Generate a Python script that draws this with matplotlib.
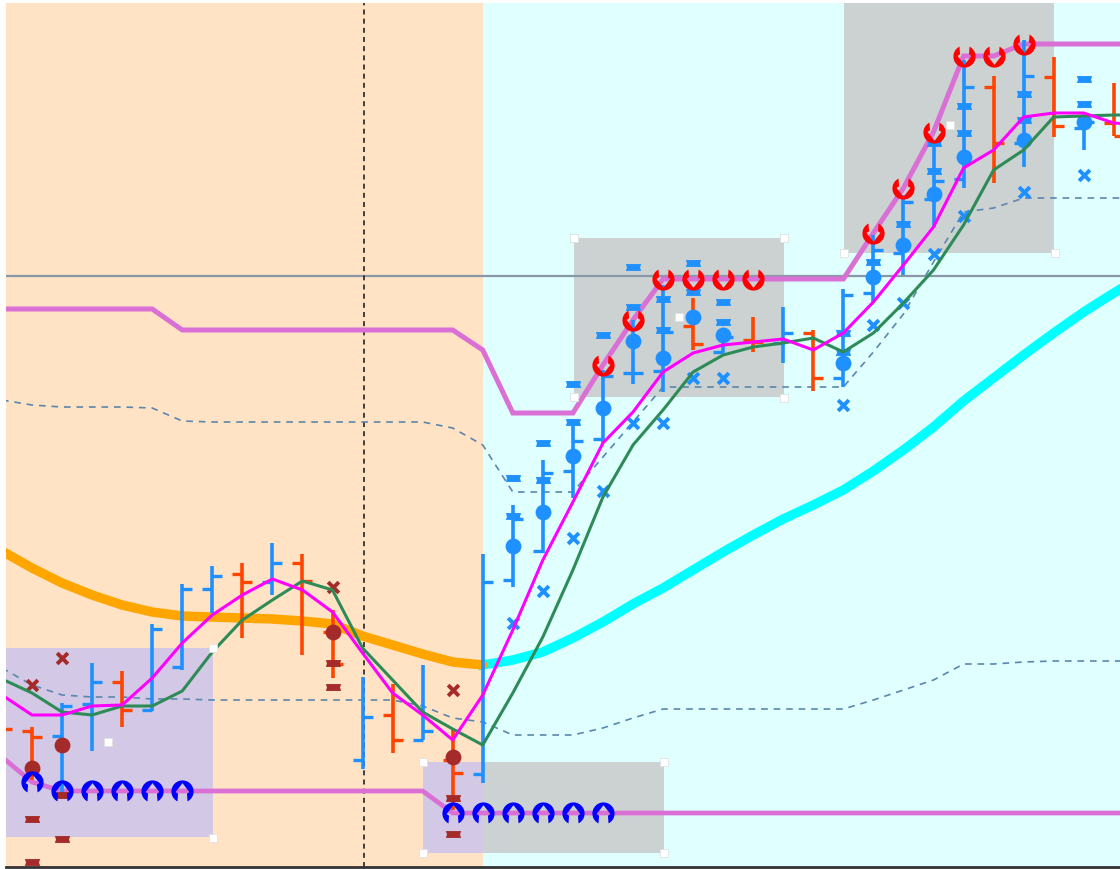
import math

import matplotlib
matplotlib.use('Agg')
import matplotlib.pyplot as plt
from matplotlib.path import Path
from matplotlib.patches import Rectangle

# index of each bar, first one (-1) is clipped at the left edge
idx = list(range(-1, 37))
# the lines run one bar further, past the right edge
line_idx = list(range(-1, 38))

# open / high / low / close, y axis runs downwards
opens = [725, 731, 736, 704, 682, 710, 667, 589, 574, 582, 563, 632, 760, 715, 740, 760, 774, 580, 551, 471, 439, 373, 371, 326, 352, 340, 343, 333, 378, 293, 253, 199, 179, 87, 143, 77, 128, 123]
highs = [715, 727, 703, 663, 671, 624, 584, 566, 563, 543, 554, 610, 677, 684, 665, 730, 554, 505, 460, 422, 370, 320, 285, 298, 335, 317, 307, 330, 289, 235, 195, 140, 60, 76, 40, 57, 115, 83]
lows = [745, 780, 797, 751, 727, 711, 670, 613, 638, 595, 655, 678, 769, 753, 740, 810, 783, 587, 553, 498, 443, 384, 392, 350, 353, 352, 363, 391, 387, 303, 275, 227, 188, 183, 167, 137, 150, 136]
closes = [729, 737, 706, 682, 710, 629, 589, 576, 582, 563, 581, 664, 717, 740, 731, 773, 582, 519, 473, 441, 376, 373, 332, 344, 337, 342, 333, 378, 295, 250, 202, 181, 87, 143, 76, 126, 122, 136]
bar_up = [False, False, True, True, False, True, True, True, False, True, False, False, True, False, True, False, True, True, True, True, True, True, True, False, True, False, True, False, True, True, True, True, True, False, True, False, True, False]

# thin moving averages, one value per bar
magenta_ma = [695, 715, 715, 706, 705, 678, 643, 615, 595, 579, 590, 612, 653, 693, 715, 740, 695, 630, 560, 502, 443, 412, 372, 353, 345, 342, 339, 350, 333, 302, 265, 227, 168, 150, 117, 113, 113, 123, 125]
green_ma = [679, 693, 712, 715, 706, 706, 691, 652, 620, 600, 581, 590, 648, 680, 712, 729, 745, 693, 637, 570, 497, 445, 410, 372, 355, 347, 343, 338, 352, 333, 303, 270, 225, 170, 150, 117, 116, 115, 115]

# thick moving average, orange up to bar 15 then cyan
thick_ma = [551, 568, 583, 595, 605, 612, 616, 617, 618, 619, 621, 624, 636, 645, 654, 662, 665, 660, 652, 638, 622, 604, 588, 570, 552, 535, 519, 505, 490, 471, 450, 427, 401, 378, 355, 333, 312, 293, 275]

# stop lines and their dashed companions
upper_stop = [309, 309, 309, 309, 309, 309, 330, 330, 330, 330, 330, 330, 330, 330, 330, 330, 350, 413, 413, 413, 365, 320, 279, 279, 279, 279, 279, 279, 279, 233, 188, 132, 56, 56, 44, 44, 44, 44, 44]
lower_stop = [757, 782, 791, 791, 791, 791, 791, 791, 791, 791, 791, 791, 791, 791, 791, 813, 813, 813, 813, 813, 813, 813, 813, 813, 813, 813, 813, 813, 813, 813, 813, 813, 813, 813, 813, 813, 813, 813, 813]
upper_dash = [400, 405, 407, 407, 407, 408, 421, 422, 422, 422, 422, 422, 422, 422, 422, 428, 445, 492, 492, 492, 457, 422, 387, 387, 387, 387, 387, 387, 387, 352, 314, 262, 212, 208, 198, 198, 198, 198, 198]
lower_dash = [668, 685, 695, 697, 697, 699, 699, 700, 700, 700, 700, 700, 700, 700, 706, 718, 722, 735, 735, 735, 728, 718, 709, 709, 709, 709, 709, 709, 709, 700, 690, 680, 664, 664, 662, 661, 661, 661, 661]

# markers: bar index and level
circle_blue_x = [16, 17, 18, 19, 20, 21, 22, 23, 27, 28, 29, 30, 31, 33, 35]
circle_blue_y = [546, 512, 456, 408, 341, 358, 317, 335, 363, 277, 245, 194, 157, 140, 122]
dash_blue_x = [16, 16, 17, 17, 18, 18, 19, 20, 20, 21, 21, 22, 22, 23, 23, 27, 27, 28, 29, 30, 30, 31, 31, 33, 33, 35, 35]
dash_blue_y = [478, 516, 443, 480, 384, 422, 335, 267, 307, 299, 330, 263, 292, 302, 322, 333, 352, 262, 224, 143, 171, 106, 133, 94, 120, 79, 104]
cross_blue_x = [16, 17, 18, 19, 20, 21, 22, 23, 27, 28, 29, 30, 31, 33, 35]
cross_blue_y = [623, 591, 538, 491, 423, 423, 378, 378, 405, 325, 303, 254, 216, 192, 175]
circle_brown_x = [0, 1, 10, 14]
circle_brown_y = [768, 745, 632, 757]
dash_brown_x = [0, 0, 1, 1, 10, 10, 14, 14]
dash_brown_y = [819, 862, 795, 839, 663, 687, 798, 834]
cross_brown_x = [0, 1, 10, 14]
cross_brown_y = [685, 658, 587, 690]
red_fractal_x = [19, 20, 21, 22, 23, 24, 28, 29, 30, 31, 32, 33]
red_fractal_y = [365, 320, 279, 279, 279, 279, 233, 188, 132, 56, 56, 44]
blue_fractal_x = [0, 1, 2, 3, 4, 5, 14, 15, 16, 17, 18, 19]
blue_fractal_y = [782, 791, 791, 791, 791, 791, 813, 813, 813, 813, 813, 813]

BAR_W = 30.05


def px(i):
    return 32 + BAR_W * i


def horseshoe(flip):
    # round glyph with an arrow shaped hole that opens at the bottom
    verts = []
    for a in range(-63, 244, 12):
        verts.append((math.cos(math.radians(a)), math.sin(math.radians(a))))
    verts.append((-0.45, -0.89))
    verts += [(-0.4, -0.2), (-0.62, -0.05), (0, 0.75), (0.62, -0.05), (0.4, -0.2), verts[0]]
    codes = [Path.MOVETO] + [Path.LINETO] * (len(verts) - 2) + [Path.CLOSEPOLY]
    if flip:
        verts = [(x, -y) for x, y in verts]
    return Path(verts, codes)


# flat bar with notched ends
dash_mark = Path([(-1, -0.45), (1, -0.45), (0.85, 0), (1, 0.45), (-1, 0.45), (-0.85, 0), (-1, -0.45)],
                 [Path.MOVETO] + [Path.LINETO] * 5 + [Path.CLOSEPOLY])

xs = [px(i) for i in line_idx]

fig = plt.figure(figsize=(11.2, 8.69), dpi=100)
ax = fig.add_axes([6 / 1120, 2 / 869, 1114 / 1120, 864 / 869])
ax.set_xlim(6, 1120)
ax.set_ylim(867, 3)
ax.set_xticks([])
ax.set_yticks([])
for side in ['top', 'left', 'right']:
    ax.spines[side].set_visible(False)
ax.spines['bottom'].set_linewidth(2)
ax.spines['bottom'].set_color('#333333')

# session backgrounds
ax.axvspan(6, px(15), color='#ffe3c4', lw=0, zorder=0)
ax.axvspan(px(15), 1120, color='#e0ffff', lw=0, zorder=0)

# rectangles drawn on the chart
ax.add_patch(Rectangle((6, 648), 207, 189, fc='#d3c9e6', ec='none', zorder=1))
ax.add_patch(Rectangle((423, 762), 60, 91, fc='#d3c9e6', ec='none', zorder=1))
ax.add_patch(Rectangle((483, 762), 181, 91, fc='#ccd2d1', ec='none', zorder=1))
ax.add_patch(Rectangle((574, 238), 210, 159, fc='#ccd2d1', ec='none', zorder=1))
ax.add_patch(Rectangle((844, 3), 210, 250, fc='#ccd2d1', ec='none', zorder=1))

# crosshair
ax.axhline(276, color='#8a97a6', lw=1.6, zorder=2)
ax.axvline(364, color='#222222', lw=1.2, ls=(0, (3, 2.5)), zorder=2)

# stop lines
ax.plot(xs, upper_stop, color='#da70d6', lw=3.6, zorder=3, solid_joinstyle='miter')
ax.plot(xs, lower_stop, color='#da70d6', lw=3.4, zorder=3, solid_joinstyle='miter')
ax.plot(xs, upper_dash, color='#5b87ad', lw=1.2, ls=(0, (4, 3.5)), zorder=3)
ax.plot(xs, lower_dash, color='#5b87ad', lw=1.2, ls=(0, (4, 3.5)), zorder=3)

# thick average
ax.plot(xs[:17], thick_ma[:17], color='#ffa500', lw=6.8, zorder=4, solid_capstyle='round')
ax.plot(xs[16:], thick_ma[16:], color='#00ffff', lw=6.8, zorder=3.9)

# OHLC bars
for i, o, h, l, c, up in zip(idx, opens, highs, lows, closes, bar_up):
    col = '#1e90ff' if up else '#ff4500'
    x = px(i)
    ax.plot([x, x], [h, l], color=col, lw=2.6, zorder=5, solid_capstyle='butt')
    ax.plot([x - 10, x], [o, o], color=col, lw=2.4, zorder=5, solid_capstyle='butt')
    ax.plot([x, x + 10], [c, c], color=col, lw=2.4, zorder=5, solid_capstyle='butt')

# marks on the bars
ax.scatter([px(i) for i in circle_blue_x], circle_blue_y, s=130, color='#1e90ff', lw=0, zorder=6)
ax.scatter([px(i) for i in circle_brown_x], circle_brown_y, s=130, color='#a52a2a', lw=0, zorder=6)
ax.plot([px(i) for i in dash_blue_x], dash_blue_y, ls='none', marker=dash_mark, ms=11, color='#1e90ff', mew=0, zorder=6)
ax.plot([px(i) for i in dash_brown_x], dash_brown_y, ls='none', marker=dash_mark, ms=11, color='#a52a2a', mew=0, zorder=6)
ax.scatter([px(i) for i in cross_blue_x], cross_blue_y, marker='x', s=60, color='#1e90ff', lw=2.8, zorder=6)
ax.scatter([px(i) for i in cross_brown_x], cross_brown_y, marker='x', s=60, color='#a52a2a', lw=2.8, zorder=6)

# lines over the bars
ax.plot(xs, green_ma, color='#2e8b57', lw=2.2, zorder=7)
ax.plot(xs, magenta_ma, color='#ff00ff', lw=2.2, zorder=8)

# selection handles
handle_x = [213, 213, 108, 423, 423, 664, 664, 574, 784, 574, 784, 679, 844, 1055, 950]
handle_y = [648, 838, 742, 762, 853, 762, 853, 238, 238, 397, 398, 317, 253, 253, 125]
ax.scatter(handle_x, handle_y, marker='s', s=30, color='white', edgecolor='#e0e0e0', lw=0.6, zorder=8.5)

# fractal glyphs
ax.plot([px(i) for i in blue_fractal_x], blue_fractal_y, ls='none', marker=horseshoe(False), ms=16, color='#0000ff', mew=0, zorder=9)
ax.plot([px(i) for i in red_fractal_x], red_fractal_y, ls='none', marker=horseshoe(True), ms=16, color='#ff0000', mew=0, zorder=9)

plt.savefig('out.png', dpi=100)
